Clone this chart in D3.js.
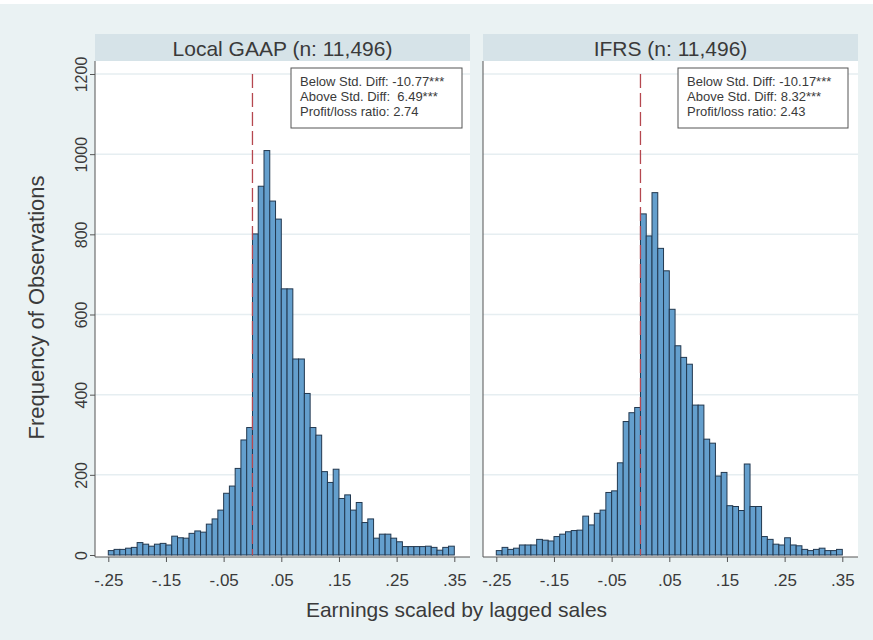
<!DOCTYPE html>
<html><head><meta charset="utf-8">
<script src="https://cdn.jsdelivr.net/npm/d3@7/dist/d3.min.js"></script>
<style>body{margin:0;background:#eaf2f3}svg{display:block}</style>
</head><body><svg id="c" width="873" height="640"></svg>
<script>
// ---------- data ----------
const panelTitles = ["Local GAAP (n: 11,496)", "IFRS (n: 11,496)"];
const binStart = -0.25, binWidth = 0.01, threshold = 0;
const localGAAP = [11,14,14,17,19,31,27,22,27,29,
                   25,47,43,42,54,60,57,77,90,112,
                   154,172,216,287,318,801,920,1009,883,838,
                   664,664,489,489,403,318,299,208,181,214,
                   141,150,112,131,81,90,42,52,52,42,
                   33,21,21,21,21,22,19,12,19,22];
const ifrs = [11,19,14,17,25,25,25,39,37,35,
              46,52,58,61,62,97,75,104,112,156,
              160,230,333,355,368,851,796,904,765,709,
              613,522,493,476,374,374,289,279,197,206,
              123,121,111,227,121,121,46,39,27,25,
              43,25,23,14,11,14,17,11,11,14];
const xTickValues = [-0.25,-0.15,-0.05,0.05,0.15,0.25,0.35];
const xTickLabels = ["-.25","-.15","-.05",".05",".15",".25",".35"];
const yTickValues = [0,200,400,600,800,1000,1200];
const statsLocal = ["Below Std. Diff: -10.77***","Above Std. Diff:  6.49***","Profit/loss ratio: 2.74"];
const statsIFRS  = ["Below Std. Diff: -10.17***","Above Std. Diff: 8.32***","Profit/loss ratio: 2.43"];
const yTitle = "Frequency of Observations";
const xTitle = "Earnings scaled by lagged sales";

// ---------- layout ----------
const FONT = "'Liberation Sans', Arial, Helvetica, sans-serif";
const TXT = "#3a3a3a";
const svg = d3.select("#c");
svg.append("rect").attr("width",873).attr("height",640).attr("fill","#eaf2f3");
svg.append("rect").attr("width",873).attr("height",4).attr("fill","#ffffff");

const panels = [
  {left:95, right:470, data:localGAAP, title:panelTitles[0], stats:statsLocal, boxX:291, boxW:171},
  {left:483, right:858, data:ifrs, title:panelTitles[1], stats:statsIFRS, boxX:678, boxW:170}
];
const stripTop = 34, stripBot = 61, plotBot = 557;
const y = d3.scaleLinear().domain([0,1200]).range([555,74]);

panels.forEach((p,pi) => {
  const x = d3.scaleLinear().domain([-0.25,0.35]).range([p.left+13.3, p.right-15.7]);
  const g = svg.append("g");
  // strip
  g.append("rect").attr("x",p.left).attr("y",stripTop).attr("width",p.right-p.left)
   .attr("height",stripBot-stripTop).attr("fill","#d6e3e8");
  g.append("text").attr("x",(p.left+p.right)/2).attr("y",55.5)
   .attr("text-anchor","middle").attr("font-family",FONT).attr("font-size",21)
   .attr("fill",TXT).text(p.title);
  // plot region
  g.append("rect").attr("x",p.left).attr("y",stripBot).attr("width",p.right-p.left)
   .attr("height",plotBot-stripBot).attr("fill","#ffffff");
  // gridlines
  g.selectAll("line.grid").data(yTickValues.filter(v=>v>0)).join("line")
   .attr("x1",p.left).attr("x2",p.right).attr("y1",d=>y(d)).attr("y2",d=>y(d))
   .attr("stroke","#e6eef1").attr("stroke-width",1.5);
  // bars
  const bins = p.data.map((v,i)=>({x0:binStart+i*binWidth, x1:binStart+(i+1)*binWidth, v}));
  g.selectAll("rect.bar").data(bins).join("rect")
   .attr("x",d=>x(d.x0)).attr("width",d=>x(d.x1)-x(d.x0))
   .attr("y",d=>y(d.v)).attr("height",d=>y(0)-y(d.v))
   .attr("fill","#649fcd").attr("stroke","#22384f").attr("stroke-width",1);
  // threshold line
  g.append("line").attr("x1",x(threshold)).attr("x2",x(threshold))
   .attr("y1",y(1200)).attr("y2",y(0))
   .attr("stroke","#b5474f").attr("stroke-width",1.3).attr("stroke-dasharray","14,5");
  // stats box
  g.append("rect").attr("x",p.boxX).attr("y",68).attr("width",p.boxW).attr("height",60)
   .attr("fill","#ffffff").attr("stroke","#555").attr("stroke-width",1);
  p.stats.forEach((s,i)=>{
    g.append("text").attr("x",p.boxX+9).attr("y",86+i*15).attr("font-family",FONT)
     .attr("font-size",13).attr("fill",TXT).style("white-space","pre").text(s);
  });
  // x axis
  const xa = g.append("g").attr("transform",`translate(0,${plotBot})`)
    .call(d3.axisBottom(x).tickValues(xTickValues).tickSize(5).tickSizeOuter(0)
      .tickFormat((d,i)=>xTickLabels[i]));
  xa.select(".domain").remove();
  xa.append("line").attr("x1",p.left).attr("x2",p.right).attr("stroke","#555").attr("stroke-width",1);
  xa.selectAll(".tick line").attr("stroke","#555");
  xa.selectAll(".tick text").attr("font-family",FONT).attr("font-size",17).attr("fill",TXT)
    .attr("y",29).attr("dy",0);
  // y axis (left panel only)
  if (pi===0) {
    const ya = g.append("g").attr("transform",`translate(${p.left},0)`)
      .call(d3.axisLeft(y).tickValues(yTickValues).tickSize(5).tickSizeOuter(0).tickFormat(d3.format("d")));
    ya.select(".domain").remove();
    ya.append("line").attr("y1",stripBot).attr("y2",plotBot).attr("stroke","#555");
    ya.selectAll(".tick line").attr("stroke","#555");
    ya.selectAll(".tick text").attr("font-family",FONT).attr("font-size",16).attr("fill",TXT)
      .attr("transform","rotate(-90)").attr("text-anchor","middle").attr("x",0).attr("dy",0)
      .attr("y",-8);
  } else {
    g.append("line").attr("x1",p.left).attr("x2",p.left).attr("y1",stripBot).attr("y2",plotBot)
     .attr("stroke","#555").attr("stroke-width",1);
  }
});

// axis titles
svg.append("text").attr("transform",`translate(44,307.5) rotate(-90)`)
  .attr("text-anchor","middle").attr("font-family",FONT).attr("font-size",22).attr("fill",TXT).text(yTitle);
svg.append("text").attr("x",456.5).attr("y",617).attr("text-anchor","middle")
  .attr("font-family",FONT).attr("font-size",21).attr("fill",TXT).text(xTitle);
</script></body></html>
